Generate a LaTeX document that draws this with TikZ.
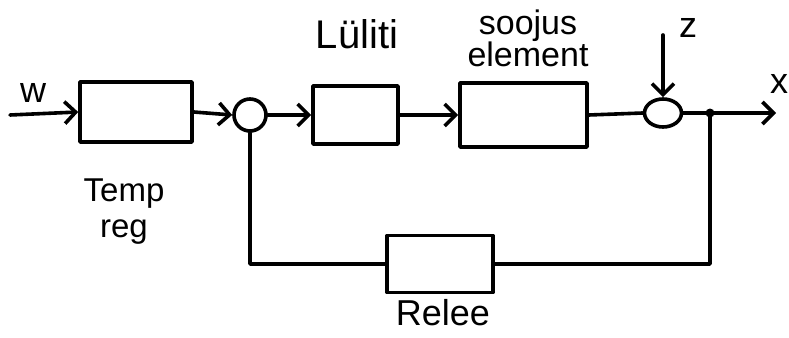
\documentclass[tikz,border=0pt]{standalone}
\usepackage{fontspec}
\setmainfont{Liberation Sans}
\usetikzlibrary{arrows.meta,shapes.geometric}
\begin{document}
\begin{tikzpicture}[x=1pt,y=-1pt,
  line width=3.6pt,
  blk/.style={draw,rectangle,inner sep=0pt},
  sumnode/.style={draw,ellipse,inner sep=0pt},
  lbl/.style={font=\fontsize{36}{36}\selectfont,align=center,inner sep=0pt},
  arr/.style={-{Straight Barb[length=11pt,width=22pt,line width=3.6pt]}},
  every path/.style={line cap=round,line join=round}]
\useasboundingbox (0,0) rectangle (789,337);
\node[blk,minimum width=112pt,minimum height=60pt] (b1) at (136,112) {};
\node[sumnode,minimum width=32pt,minimum height=32pt] (s1) at (250,115) {};
\node[blk,minimum width=85pt,minimum height=58pt] (b2) at (355.5,115) {};
\node[blk,minimum width=127pt,minimum height=64pt] (b3) at (523.5,115) {};
\node[sumnode,minimum width=37pt,minimum height=28pt] (s2) at (663,113) {};
\node[blk,minimum width=106pt,minimum height=57pt] (b4) at (440,264) {};
\coordinate (in) at (10,115);
\coordinate (out) at (776,113);
\coordinate (zin) at (663,35);
\coordinate (j) at (710,113);
\fill (j) circle (4.5pt);
\node[lbl] (lw) at (33,93) {w};
\node[lbl,font=\fontsize{40}{40}\selectfont] (ll) at (357,34) {Lüliti};
\node[lbl,font=\fontsize{34}{32}\selectfont] (ls) at (528,38) {soojus\\element};
\node[lbl] (lz) at (688,28) {z};
\node[lbl] (lx) at (779,84) {x};
\node[lbl,font=\fontsize{33}{36}\selectfont] (lt) at (124,212) {Temp\\reg};
\node[lbl,font=\fontsize{36}{36}\selectfont] (lr) at (443,313) {Relee};
\draw[arr] (in) -- (b1.west);
\draw[arr] (b1.east) -- (s1.west);
\draw[arr] (s1.east) -- (b2.west);
\draw[arr] (b2.east) -- (b3.west);
\draw (b3.east) -- (s2.west);
\draw[arr] (zin) -- (s2.north);
\draw[arr] (s2.east) -- (out);
\draw (s1.south) |- (b4.west);
\draw (b4.east) -| (j);
\end{tikzpicture}
\end{document}
